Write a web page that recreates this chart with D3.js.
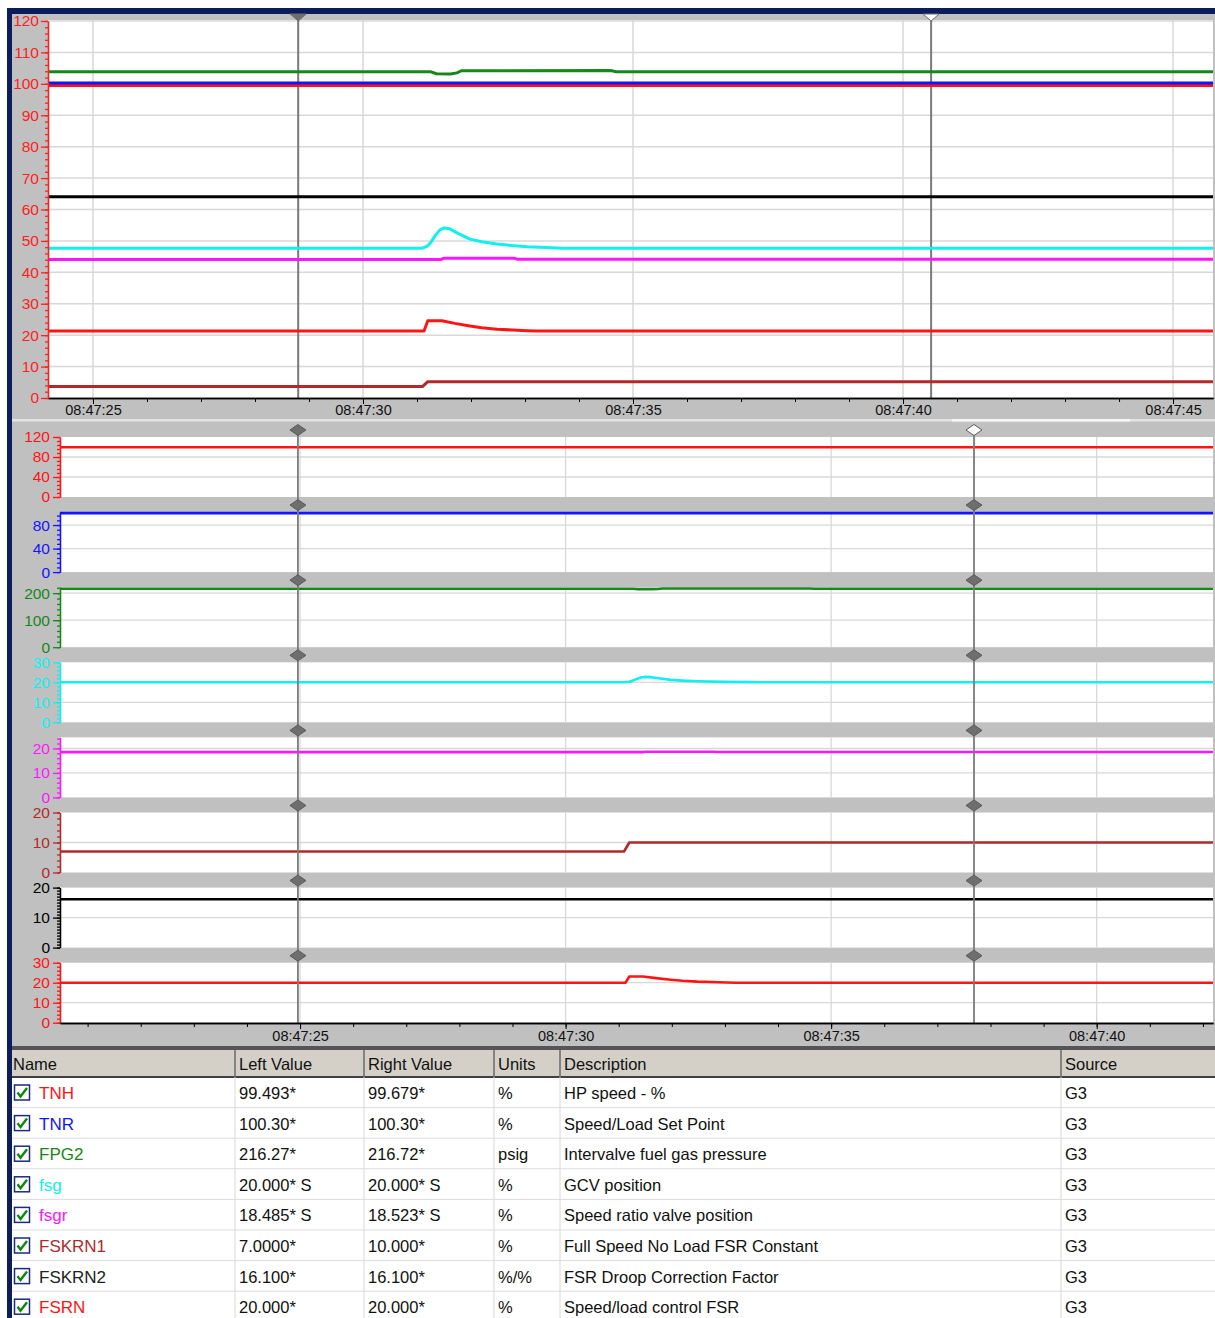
<!DOCTYPE html>
<html>
<head>
<meta charset="utf-8">
<script src="https://cdn.jsdelivr.net/npm/d3@7"></script>
<style>
  body { margin: 0; background: #fff; }
  svg { display: block; font-family: "Liberation Sans", Arial, sans-serif; }
</style>
</head>
<body>
<svg id="chart" width="1215" height="1318"></svg>
<script>
// ---- data (time = seconds after 08:47:00) ----
const tags = ["TNH", "TNR", "FPG2", "fsg", "fsgr", "FSKRN1", "FSKRN2", "FSRN"];
const tagColors = ["#ff1414", "#1414ff", "#17871a", "#10f0f0", "#ff14ff", "#b02a2a", "#000000", "#ff1414"];
const leftValues = ["99.493*", "100.30*", "216.27*", "20.000* S", "18.485* S", "7.0000*", "16.100*", "20.000*"];
const rightValues = ["99.679*", "100.30*", "216.72*", "20.000* S", "18.523* S", "10.000*", "16.100*", "20.000*"];
const units = ["%", "%", "psig", "%", "%", "%", "%/%", "%"];
const descriptions = ["HP speed - %", "Speed/Load Set Point", "Intervalve fuel gas pressure", "GCV position",
  "Speed ratio valve position", "Full Speed No Load FSR Constant", "FSR Droop Correction Factor", "Speed/load control FSR"];
const sources = ["G3", "G3", "G3", "G3", "G3", "G3", "G3", "G3"];

const tnh = [[20, 99.49], [46, 99.5]];
const tnr = [[20, 100.3], [46, 100.3]];
const fpg2 = [[20, 216.3], [31.26, 216.3], [31.36, 215.0], [31.62, 214.9], [31.74, 215.6], [31.82, 217.0], [34.6, 217.1], [34.68, 216.4], [46, 216.4]];
const fsg = [[20, 20], [31.1, 20], [31.2, 20.3], [31.27, 20.9], [31.34, 21.7], [31.42, 22.4], [31.5, 22.7], [31.6, 22.6],
  [31.75, 22.0], [31.98, 21.2], [32.2, 20.85], [32.48, 20.55], [32.75, 20.35], [33.04, 20.2], [33.4, 20.08], [33.7, 20], [46, 20]];
const fsgr = [[20, 18.485], [31.45, 18.485], [31.5, 18.65], [32.8, 18.65], [32.85, 18.52], [46, 18.52]];
const fskrn1 = [[20, 7], [31.1, 7], [31.2, 10], [46, 10]];
const fskrn2 = [[20, 16.1], [46, 16.1]];
const fsrn = [[20, 20], [31.13, 20], [31.2, 23.1], [31.46, 23.1], [31.7, 22.3], [31.98, 21.5], [32.2, 21.0], [32.48, 20.56], [33.04, 20.1], [33.2, 20], [46, 20]];
const seriesData = [tnh, tnr, fpg2, fsg, fsgr, fskrn1, fskrn2, fsrn];

// overlay (top chart) display gain per tag
const overlayGain = [1, 1, 0.48, 2.385, 2.386, 0.52, 3.98, 1.065];

// strip axes
const stripMax = [120, 102, 222, 30, 24.5, 20, 20, 30];
const stripTicks = [[0, 40, 80, 120], [0, 40, 80], [0, 100, 200], [0, 10, 20, 30], [0, 10, 20], [0, 10, 20], [0, 10, 20], [0, 10, 20, 30]];
const stripMinor = [8, 8, 20, 2, 2, 2, 1, 2];

const topTicks = [25, 30, 35, 40, 45];
const bottomTicks = [25, 30, 35, 40];
const topCursors = [28.8, 40.52];
const bottomCursors = [24.96, 37.69];

// ---- helpers ----
const base = new Date(2020, 0, 1, 8, 47, 0).getTime();
const T = s => new Date(base + s * 1000);
const fmt = d3.timeFormat("%H:%M:%S");
const navy = "#0b1e5b", panel = "#c0c0c0", grid = "#d8d8d8";

const svg = d3.select("#chart");

// frame
svg.append("rect").attr("x", 12).attr("y", 14).attr("width", 1203).attr("height", 1036).attr("fill", panel);
svg.append("rect").attr("x", 8).attr("y", 8).attr("width", 1207).attr("height", 6).attr("fill", navy);
svg.append("rect").attr("x", 7).attr("y", 8).attr("width", 5).attr("height", 1310).attr("fill", navy);

// ============ TOP OVERLAY CHART ============
const xTop = d3.scaleTime().domain([T(24.167), T(45.74)]).range([48, 1213]);
const yTop = d3.scaleLinear().domain([0, 120]).range([398, 21]);

const topG = svg.append("g");
topG.append("rect").attr("x", 48).attr("y", 20).attr("width", 1165).attr("height", 378).attr("fill", "#fff");
topG.append("clipPath").attr("id", "clipTop")
  .append("rect").attr("x", 48).attr("y", 20).attr("width", 1165).attr("height", 378);

topG.append("g").selectAll("line").data(d3.range(10, 121, 10)).join("line")
  .attr("x1", 48).attr("x2", 1213).attr("y1", d => yTop(d)).attr("y2", d => yTop(d))
  .attr("stroke", grid).attr("stroke-width", 1.5);
topG.append("g").selectAll("line").data(topTicks).join("line")
  .attr("x1", d => xTop(T(d))).attr("x2", d => xTop(T(d))).attr("y1", 20).attr("y2", 398)
  .attr("stroke", grid).attr("stroke-width", 1.5);

// cursors
topG.append("g").selectAll("line").data(topCursors).join("line")
  .attr("x1", d => xTop(T(d))).attr("x2", d => xTop(T(d))).attr("y1", 14).attr("y2", 398)
  .attr("stroke", "#7a7a7a").attr("stroke-width", 2);

const lineTop = (g) => d3.line().x(d => xTop(T(d[0]))).y(d => yTop(d[1] * g));
const topOrder = [5, 7, 4, 3, 6, 2, 0, 1];
topG.append("g").attr("clip-path", "url(#clipTop)").selectAll("path").data(topOrder).join("path")
  .attr("d", i => lineTop(overlayGain[i])(seriesData[i]))
  .attr("fill", "none").attr("stroke", i => tagColors[i]).attr("stroke-width", 3)
  .attr("stroke-linejoin", "round");

// top cursor markers
topG.append("g").selectAll("path").data(topCursors).join("path")
  .attr("d", d => { const x = xTop(T(d)); return `M${x - 8},14 L${x + 8},14 L${x},21 Z`; })
  .attr("fill", (d, i) => i === 0 ? "#6e6e6e" : "#fff").attr("stroke", "#6e6e6e").attr("stroke-width", 1);

// axes
const xAxTop = topG.append("g").attr("transform", "translate(0,398)");
xAxTop.append("g").call(d3.axisBottom(xTop).tickValues(d3.range(25, 46).map(T)).tickSize(4).tickSizeOuter(0).tickFormat(""));
xAxTop.append("g").call(d3.axisBottom(xTop).tickValues(topTicks.map(T)).tickSize(6).tickSizeOuter(0).tickPadding(1).tickFormat(fmt));
xAxTop.selectAll("path.domain").attr("stroke", "#000").attr("stroke-width", 1.5);
xAxTop.selectAll("text").attr("font-size", 14.5).attr("fill", "#111").attr("font-family", "Liberation Sans, Arial");

const yAxTop = topG.append("g").attr("transform", "translate(48,0)");
yAxTop.append("g").call(d3.axisLeft(yTop).tickValues(d3.range(0, 121, 2)).tickSize(3).tickSizeOuter(0).tickFormat(""));
yAxTop.append("g").call(d3.axisLeft(yTop).tickValues(d3.range(0, 121, 10)).tickSize(7).tickSizeOuter(0).tickPadding(2));
yAxTop.selectAll("path.domain, line").attr("stroke", "#ff2020").attr("stroke-width", 1.3);
yAxTop.selectAll("text").attr("font-size", 15.5).attr("fill", "#ff2020").attr("font-family", "Liberation Sans, Arial");

// scrollbar strip
svg.append("rect").attr("x", 12).attr("y", 419).attr("width", 1203).attr("height", 2.5).attr("fill", "#e4e4e4");
svg.append("rect").attr("x", 952).attr("y", 419).attr("width", 178).attr("height", 2.5).attr("fill", "#f6f6f6");

// ============ STACKED STRIPS ============
const xBot = d3.scaleTime().domain([T(20.48), T(42.19)]).range([60, 1213]);
const stripTop0 = 437, stripH = 60, pitch = 75.1;

tags.forEach((tag, i) => {
  const y0 = stripTop0 + i * pitch;
  const y = d3.scaleLinear().domain([0, stripMax[i]]).range([y0 + stripH, y0]);
  const g = svg.append("g");
  g.append("rect").attr("x", 60).attr("y", y0).attr("width", 1153).attr("height", stripH).attr("fill", "#fff");
  g.append("clipPath").attr("id", "clip" + i)
    .append("rect").attr("x", 60).attr("y", y0 - 2).attr("width", 1153).attr("height", stripH + 2);
  g.append("g").selectAll("line").data(stripTicks[i].filter(v => v > 0 && v < stripMax[i])).join("line")
    .attr("x1", 60).attr("x2", 1213).attr("y1", d => y(d)).attr("y2", d => y(d))
    .attr("stroke", grid).attr("stroke-width", 1.3);
  g.append("g").selectAll("line").data(bottomTicks).join("line")
    .attr("x1", d => xBot(T(d))).attr("x2", d => xBot(T(d))).attr("y1", y0).attr("y2", y0 + stripH)
    .attr("stroke", grid).attr("stroke-width", 1.3);
  g.append("path").attr("clip-path", `url(#clip${i})`)
    .attr("d", d3.line().x(d => xBot(T(d[0]))).y(d => y(d[1]))(seriesData[i]))
    .attr("fill", "none").attr("stroke", tagColors[i]).attr("stroke-width", 2.6)
    .attr("stroke-linejoin", "round");

  const ax = g.append("g").attr("transform", "translate(60,0)");
  ax.append("g").call(d3.axisLeft(y).tickValues(d3.range(0, stripMax[i] + 0.01, stripMinor[i])).tickSize(3).tickSizeOuter(0).tickFormat(""));
  ax.append("g").call(d3.axisLeft(y).tickValues(stripTicks[i]).tickSize(7).tickSizeOuter(0).tickPadding(3));
  ax.selectAll("path.domain, line").attr("stroke", tagColors[i]).attr("stroke-width", 1.3);
  ax.selectAll("text").attr("font-size", 15.5).attr("fill", tagColors[i]).attr("font-family", "Liberation Sans, Arial");
});

// bottom cursors and diamonds
svg.append("g").selectAll("line").data(bottomCursors).join("line")
  .attr("x1", d => xBot(T(d))).attr("x2", d => xBot(T(d))).attr("y1", 430).attr("y2", 1023)
  .attr("stroke", "#7a7a7a").attr("stroke-width", 1.8);
const diamonds = [];
bottomCursors.forEach((c, ci) => tags.forEach((t, i) => diamonds.push({ c, ci, i })));
svg.append("g").selectAll("path").data(diamonds).join("path")
  .attr("d", d => { const x = xBot(T(d.c)), yy = 430 + d.i * pitch; return `M${x - 8},${yy} L${x},${yy - 5.5} L${x + 8},${yy} L${x},${yy + 5.5} Z`; })
  .attr("fill", d => (d.ci === 1 && d.i === 0) ? "#fff" : "#6e6e6e").attr("stroke", "#5a5a5a").attr("stroke-width", 1);

// bottom time axis
const xAxBot = svg.append("g").attr("transform", "translate(0,1023)");
xAxBot.append("g").call(d3.axisBottom(xBot).tickValues(d3.range(21, 43).map(T)).tickSize(4).tickSizeOuter(0).tickFormat(""));
xAxBot.append("g").call(d3.axisBottom(xBot).tickValues(bottomTicks.map(T)).tickSize(6).tickSizeOuter(0).tickPadding(2).tickFormat(fmt));
xAxBot.selectAll("path.domain").attr("stroke", "#000").attr("stroke-width", 1.5);
xAxBot.selectAll("text").attr("font-size", 14.5).attr("fill", "#111").attr("font-family", "Liberation Sans, Arial");

// ============ TABLE ============
const colX = [12, 235, 364, 494, 560, 1061, 1215];
const headers = ["Name", "Left Value", "Right Value", "Units", "Description", "Source"];
const tableTop = 1050, headH = 27, rowH = 30.6;
const tbl = svg.append("g");
tbl.append("rect").attr("x", 12).attr("y", 1046).attr("width", 1203).attr("height", 4).attr("fill", "#555");
tbl.append("rect").attr("x", 12).attr("y", tableTop).attr("width", 1203).attr("height", 268).attr("fill", "#fff");
tbl.append("rect").attr("x", 12).attr("y", tableTop).attr("width", 1203).attr("height", headH).attr("fill", "#d4d0c8");
tbl.append("line").attr("x1", 12).attr("x2", 1215).attr("y1", tableTop + headH).attr("y2", tableTop + headH)
  .attr("stroke", "#404040").attr("stroke-width", 2);
tbl.append("g").selectAll("line").data(colX.slice(1, 6)).join("line")
  .attr("x1", d => d).attr("x2", d => d).attr("y1", tableTop).attr("y2", tableTop + headH)
  .attr("stroke", "#6a6a6a").attr("stroke-width", 1.5);
tbl.append("g").selectAll("line").data(colX.slice(1, 6)).join("line")
  .attr("x1", d => d).attr("x2", d => d).attr("y1", tableTop + headH).attr("y2", 1318)
  .attr("stroke", "#d8d8d8").attr("stroke-width", 1);
tbl.append("g").selectAll("text").data(headers).join("text")
  .attr("x", (d, i) => colX[i] + (i === 0 ? 1 : 4)).attr("y", tableTop + 20)
  .attr("font-size", 16.5).attr("fill", "#111").text(d => d);

const rows = tbl.append("g").selectAll("g").data(tags).join("g")
  .attr("transform", (d, i) => `translate(0,${tableTop + headH + i * rowH})`);
rows.append("line").attr("x1", 12).attr("x2", 1215).attr("y1", rowH).attr("y2", rowH)
  .attr("stroke", "#dcdcdc").attr("stroke-width", 1);
rows.append("rect").attr("x", 14.5).attr("y", 8).attr("width", 15).attr("height", 15)
  .attr("fill", "#fff").attr("stroke", "#1c2a80").attr("stroke-width", 1.5);
rows.append("path").attr("d", "M17.5,15.5 L20.5,19.5 L27,11")
  .attr("fill", "none").attr("stroke", "#0a8a0a").attr("stroke-width", 2.4);
rows.append("text").attr("x", 39).attr("y", 22).attr("font-size", 17)
  .attr("fill", (d, i) => i === 6 ? "#222" : tagColors[i]).text(d => d);
const cellCols = [leftValues, rightValues, units, descriptions, sources];
cellCols.forEach((col, c) => {
  rows.append("text").attr("x", colX[c + 1] + 4).attr("y", 22).attr("font-size", 16.5)
    .attr("fill", "#111").text((d, i) => col[i]);
});
</script>
</body>
</html>
